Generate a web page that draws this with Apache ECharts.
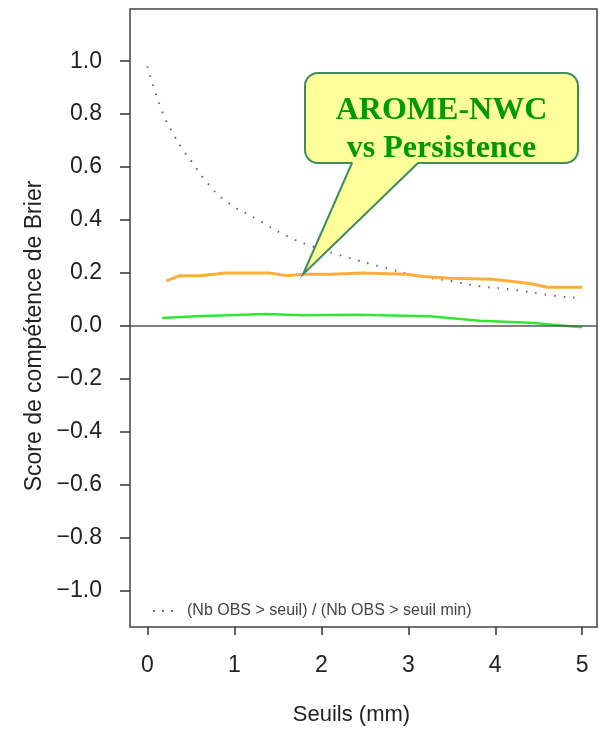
<!DOCTYPE html>
<html>
<head>
<meta charset="utf-8">
<script src="https://cdn.jsdelivr.net/npm/echarts@6/dist/echarts.min.js"></script>
<style>
  html, body { margin: 0; padding: 0; background: #fff; }
  #chart { width: 599px; height: 731px; }
</style>
</head>
<body>
<div id="chart"></div>
<script>
// seuils (mm) et valeurs
const ratioX = [0.0, 0.17, 0.29, 0.40, 0.51, 0.69, 0.91, 1.25, 1.6, 1.9, 2.29, 2.67, 3.1, 3.48, 3.82, 4.25, 4.63, 4.98];
const ratioY = [0.98, 0.81, 0.73, 0.67, 0.62, 0.54, 0.47, 0.405, 0.34, 0.30, 0.26, 0.225, 0.19, 0.17, 0.15, 0.135, 0.116, 0.105];

const aromeX = [0.22, 0.37, 0.6, 0.9, 1.4, 1.6, 1.79, 2.1, 2.48, 2.98, 3.17, 3.48, 3.97, 4.4, 4.6, 5.0];
const aromeY = [0.17, 0.19, 0.19, 0.20, 0.20, 0.19, 0.195, 0.195, 0.20, 0.195, 0.187, 0.18, 0.176, 0.16, 0.146, 0.146];

const greenX = [0.17, 0.56, 1.37, 1.79, 2.4, 3.25, 3.82, 4.4, 5.0];
const greenY = [0.03, 0.037, 0.045, 0.04, 0.042, 0.037, 0.02, 0.012, -0.005];

const xTicks = [0, 1, 2, 3, 4, 5];
const yTicks = [-1.0, -0.8, -0.6, -0.4, -0.2, 0.0, 0.2, 0.4, 0.6, 0.8, 1.0];

const ratioName = "(Nb OBS > seuil) / (Nb OBS > seuil min)";
const calloutText = "AROME-NWC\nvs Persistence";
const calloutTip = [1.79, 0.195];

const pairs = (xs, ys) => xs.map((x, i) => [x, ys[i]]);

const chart = echarts.init(document.getElementById("chart"));

chart.setOption({
  animation: false,
  backgroundColor: "#fff",
  textStyle: { fontFamily: "Liberation Sans" },
  grid: {
    left: 130,
    right: 2,
    top: 9,
    bottom: 100,
    show: true,
    borderColor: "#444",
    borderWidth: 1.5,
  },
  legend: {
    data: [{ name: ratioName, icon: "path://M0,0h2v2h-2z M9,0h2v2h-2z M18,0h2v2h-2z" }],
    left: 148,
    top: 598,
    itemWidth: 22,
    itemHeight: 2,
    textStyle: { fontSize: 16, color: "#444", padding: [0, 0, 0, 8] },
  },
  xAxis: {
    type: "value",
    min: -0.2,
    max: 5.17,
    name: "Seuils (mm)",
    nameLocation: "middle",
    nameGap: 77,
    nameTextStyle: { fontSize: 22, color: "#222", padding: [0, 24, 0, 0] },
    axisLine: { show: false, onZero: false },
    axisTick: { show: true, length: 8, lineStyle: { color: "#333", width: 1.5 }, customValues: xTicks },
    axisLabel: { fontSize: 23, color: "#222", margin: 27, customValues: xTicks, formatter: (v) => String(v) },
    splitLine: { show: false },
  },
  yAxis: {
    type: "value",
    min: -1.137,
    max: 1.197,
    name: "Score de compétence de Brier",
    nameLocation: "middle",
    nameGap: 68,
    nameTextStyle: { fontSize: 23, color: "#222", padding: [0, 36, 0, 0] },
    axisLine: { show: false, onZero: false },
    axisTick: { show: true, length: 10, lineStyle: { color: "#333", width: 1.5 }, customValues: yTicks },
    axisLabel: {
      fontSize: 23,
      color: "#222",
      margin: 28,
      customValues: yTicks,
      formatter: (v) => v.toFixed(1).replace("-", "\u2212"),
    },
    splitLine: { show: false },
  },
  series: [
    {
      name: ratioName,
      type: "line",
      data: pairs(ratioX, ratioY),
      smooth: true,
      symbol: "none",
      lineStyle: { color: "#6a6a6a", width: 2, type: [1.5, 8] },
      itemStyle: { color: "#6a6a6a" },
      z: 2,
    },
    {
      name: "AROME-NWC vs Persistence",
      type: "line",
      data: pairs(aromeX, aromeY),
      symbol: "none",
      lineStyle: { color: "#ffad3a", width: 3 },
      z: 3,
    },
    {
      name: "AROME-NWC",
      type: "line",
      data: pairs(greenX, greenY),
      symbol: "none",
      lineStyle: { color: "#33e633", width: 2.5 },
      z: 3,
      markLine: {
        silent: true,
        symbol: "none",
        label: { show: false },
        lineStyle: { color: "#555", width: 1.5, type: "solid" },
        data: [{ yAxis: 0 }],
      },
    },
  ],
});

// bulle d'annotation
const tip = chart.convertToPixel({ gridIndex: 0 }, calloutTip);
const box = { x: 305, y: 73, w: 273, h: 90 };
const baseL = 352, baseR = 418, baseY = box.y + box.h;
const fill = "#ffff99", edge = "#3d8c5e";

chart.setOption({
  graphic: [
    {
      type: "rect",
      z: 100,
      shape: { x: box.x, y: box.y, width: box.w, height: box.h, r: 13 },
      style: { fill: fill, stroke: edge, lineWidth: 2 },
    },
    {
      type: "polygon",
      z: 101,
      shape: { points: [[baseL + 1, baseY - 2], [baseR - 1, baseY - 2], [baseR, baseY + 1], tip, [baseL, baseY + 1]] },
      style: { fill: fill },
    },
    {
      type: "polyline",
      z: 102,
      shape: { points: [[baseL, baseY], tip, [baseR, baseY]] },
      style: { stroke: edge, lineWidth: 2, fill: null },
    },
    {
      type: "text",
      z: 103,
      x: box.x + box.w / 2,
      y: box.y + box.h / 2 + 12,
      style: {
        text: calloutText,
        fill: "#009900",
        font: "bold 32px 'Liberation Serif'",
        lineHeight: 38,
        align: "center",
        verticalAlign: "middle",
      },
    },
  ],
});
</script>
</body>
</html>
